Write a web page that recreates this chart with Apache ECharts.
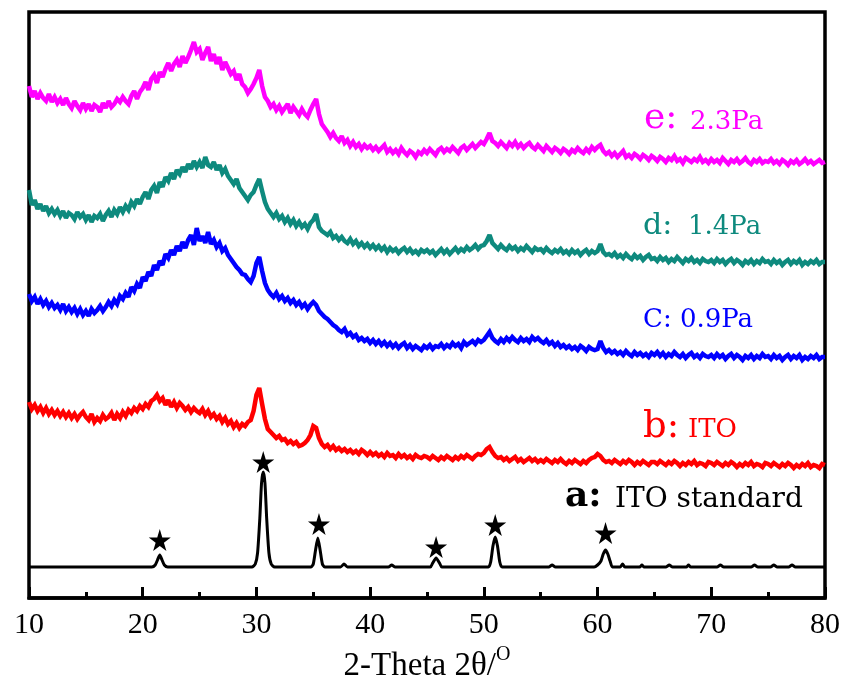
<!DOCTYPE html>
<html>
<head>
<meta charset="utf-8">
<script src="https://cdn.jsdelivr.net/npm/echarts@6/dist/echarts.min.js"></script>
<style>
html,body{margin:0;padding:0;background:#fff;}
#chart{width:842px;height:684px;}
</style>
</head>
<body>
<div id="chart"></div>
<script>
// 2-Theta grid: 10 to 80 deg, 0.25 deg step (281 samples)
const thetaStart = 10, thetaStep = 0.25, thetaCount = 281;
const xTicks = [10, 20, 30, 40, 50, 60, 70, 80];

// e: 2.3Pa (magenta), offset intensity
const seriesE = [
512,501,507,499,505,500,497,504,496,501,495,499,493,500,494,490,497,492,488,495,
489,494,487,493,491,486,495,490,497,491,494,499,496,501,497,494,502,507,499,506,
510,516,508,519,523,515,526,521,529,535,527,534,538,531,542,535,541,548,556,546,
549,538,545,551,537,544,534,541,528,536,530,524,527,518,524,514,511,505,509,514,
520,528,512,501,497,491,494,488,492,486,490,494,485,491,487,483,489,484,481,488,
494,499,484,474,470,466,461,465,460,457,462,455,458,452,456,451,454,449,453,450,
452,448,451,447,450,453,446,449,445,448,444,450,446,443,447,445,441,446,444,448,
445,449,446,443,448,450,446,449,447,451,448,445,450,452,448,451,454,450,453,456,
454,459,465,457,455,452,456,453,450,455,452,456,451,454,450,453,455,451,449,453,
450,447,452,449,446,450,448,445,449,447,444,448,446,450,447,445,449,446,451,448,
451,453,447,444,446,442,445,441,444,447,441,443,440,444,442,439,443,441,438,442,
440,437,441,439,436,440,438,442,437,439,435,440,438,436,439,437,441,436,438,435,
439,436,438,435,440,437,434,438,436,439,435,437,440,436,434,438,436,439,435,437,
436,439,435,437,434,438,436,433,437,435,438,434,436,439,435,437,434,436,438,435,
436];

// d: 1.4Pa (teal)
const seriesD = [
408,393,398,389,394,387,392,385,389,384,388,382,387,380,385,383,379,386,381,384,
378,383,376,382,380,384,377,383,387,381,388,384,391,386,392,388,396,392,399,394,
401,406,399,408,412,405,416,411,421,417,425,419,428,424,431,426,434,429,437,431,
436,430,441,433,431,436,428,433,425,429,422,418,414,419,410,406,402,398,403,406,
413,419,407,396,389,385,381,385,379,382,376,380,374,378,372,376,371,374,369,375,
378,384,371,367,365,363,366,360,362,358,361,357,355,359,354,357,352,355,351,354,
350,353,349,352,348,351,346,350,347,349,345,348,350,346,349,345,347,344,348,346,
348,345,347,343,346,349,345,348,344,347,350,346,349,347,351,348,350,353,349,352,
353,357,363,355,352,349,353,350,348,352,349,351,347,350,348,352,349,346,350,348,
349,346,350,347,345,348,346,349,345,347,344,348,345,347,343,346,348,344,347,345,
347,354,346,343,344,342,345,341,343,340,344,341,339,343,340,342,338,341,343,339,
340,337,341,338,340,336,339,337,341,338,335,339,337,340,336,338,335,339,337,336,
338,335,339,336,338,334,337,339,335,338,336,333,337,335,338,334,337,335,339,336,
337,334,338,335,337,333,336,338,334,337,335,338,333,336,334,337,335,338,334,336,
336];

// C: 0.9Pa (blue)
const seriesC = [
304,297,301,294,299,293,297,291,295,290,293,288,294,287,291,286,290,284,289,283,
287,282,289,285,288,292,287,291,296,292,298,294,302,299,305,301,311,307,314,310,
321,317,326,322,333,328,337,333,344,340,348,343,352,347,356,350,358,363,353,370,
357,362,355,366,354,358,351,355,347,350,343,339,335,331,328,324,323,319,316,322,
335,341,327,315,308,304,301,305,299,302,297,300,295,298,293,296,291,294,289,293,
296,293,287,284,281,279,276,273,271,268,266,269,263,265,261,263,258,260,257,259,
255,258,254,257,253,256,252,255,251,254,250,253,255,250,253,249,252,250,248,252,
250,253,249,252,251,254,250,253,251,255,252,254,250,256,253,255,257,254,258,256,
258,262,266,260,257,255,259,256,260,257,261,258,256,260,257,259,256,261,258,260,
257,255,258,254,256,252,255,251,253,250,252,249,251,248,252,250,247,251,249,248,
249,257,250,246,248,245,247,244,246,243,247,244,242,246,243,245,242,244,241,245,
243,246,242,245,241,244,242,246,243,241,244,240,243,245,241,243,240,244,242,241,
243,240,244,241,243,239,242,244,240,243,241,238,242,240,243,239,242,240,244,241,
242,239,243,240,242,238,241,243,239,242,240,243,238,241,239,242,240,243,239,241,
241];

// b: ITO film (red)
const seriesB = [
196,189,193,187,191,185,190,184,188,183,187,182,186,181,185,180,184,179,183,186,
181,178,184,176,180,177,183,179,181,185,178,184,180,186,182,188,185,190,187,192,
189,194,191,197,199,203,197,200,193,198,191,196,190,195,192,188,191,186,190,187,
185,189,183,187,181,184,179,182,176,180,174,177,171,175,170,174,172,176,178,187,
203,210,194,179,169,166,163,160,162,158,159,155,157,154,156,152,153,155,158,163,
172,170,160,154,151,153,149,152,148,150,147,149,146,148,145,147,144,148,146,143,
146,143,145,142,144,141,145,142,143,140,144,141,143,140,142,139,143,141,140,142,
141,139,142,140,138,141,139,142,140,138,141,139,142,140,143,141,139,142,144,143,
145,149,151,146,142,140,141,138,140,137,139,141,137,139,136,138,140,137,139,136,
138,136,139,137,135,138,136,139,136,134,137,135,138,136,134,137,135,138,140,141,
144,142,138,136,137,135,138,136,134,137,135,138,136,133,136,134,137,135,133,136,
136,134,137,135,133,136,134,137,135,132,135,133,136,134,137,133,135,134,132,136,
135,133,136,134,132,135,133,136,134,131,134,132,135,133,136,132,134,133,131,135,
134,132,135,133,131,134,132,135,133,130,133,131,134,132,135,131,133,132,130,134,
133];

// a: ITO standard (black) [2theta, intensity]
const standardA = [
[10,31],[20.8,31],[21.1,33],[21.3,38],[21.5,43],[21.7,38],[21.9,33],[22.2,31],
[29.6,31],[29.9,34],[30.1,45],[30.3,80],[30.45,115],[30.6,126],[30.75,115],[30.9,80],[31.1,45],[31.3,34],[31.6,31],
[34.8,31],[35.0,34],[35.2,48],[35.4,60],[35.6,48],[35.8,34],[36.0,31],
[37.4,31],[37.7,34],[38.0,31],[41.6,31],[41.9,33],[42.2,31],
[45.3,31],[45.5,35],[45.8,40],[46.1,35],[46.3,31],
[50.4,31],[50.6,36],[50.8,52],[51.0,61],[51.2,52],[51.4,36],[51.6,31],
[55.7,31],[56.0,33],[56.3,31],
[59.7,31],[60.0,33],[60.3,37],[60.5,44],[60.7,48],[60.9,44],[61.1,37],[61.3,31],
[62.0,31],[62.2,34],[62.4,31],[63.7,31],[63.9,33],[64.1,31],
[66.0,31],[66.3,33],[66.6,31],[67.8,31],[68.0,33],[68.2,31],[70.5,31],[70.8,33],[71.1,31],
[73.5,31],[73.8,33],[74.1,31],[75.2,31],[75.5,33],[75.8,31],[76.8,31],[77.1,33],[77.4,31],[80,31]
];

// star markers (2theta, height)
const starMarks = [[21.5,58],[30.6,136],[35.5,74],[45.8,51],[51.0,73],[60.7,65]];

const twoTheta = [];
for (let i = 0; i < thetaCount; i++) twoTheta.push(thetaStart + i * thetaStep);
const pair = arr => twoTheta.map((x, i) => [x, arr[i]]);

const STAR = 'path://M50,0 L61,35 L98,35 L68,57 L79,91 L50,70 L21,91 L32,57 L2,35 L39,35 Z';
const LBL = 'DejaVu Serif';

function noisy(name, data, color) {
  return {name, type:'line', data: pair(data), showSymbol:false, symbol:'none',
    lineStyle:{color, width:4.5, join:'miter', miterLimit:2.2}, itemStyle:{color}, animation:false, z:3};
}

const chart = echarts.init(document.getElementById('chart'), null, {renderer:'canvas'});
chart.setOption({
  backgroundColor:'#fff',
  animation:false,
  grid:{left:29, right:17, top:12, bottom:86, show:true, borderColor:'#000', borderWidth:3.5,
        containLabel:false, outerBoundsMode:'none'},
  xAxis:{
    type:'value', min:10, max:80, interval:10,
    axisLine:{show:true, onZero:false, lineStyle:{color:'#000', width:3.5}},
    axisTick:{show:true, inside:true, length:11, lineStyle:{color:'#000', width:3}},
    minorTick:{show:true, splitNumber:2, length:6, lineStyle:{color:'#000', width:3}},
    splitLine:{show:false},
    axisLabel:{color:'#000', fontFamily:'Liberation Serif', fontSize:30, margin:12,
      formatter: v => xTicks.includes(v) ? String(v) : ''},
    name:'2-Theta 2θ/{sup|O}', nameLocation:'middle', nameGap:47,
    nameTextStyle:{color:'#000', fontFamily:'Liberation Serif', fontSize:33,
      rich:{sup:{fontFamily:'Liberation Serif', fontSize:20, verticalAlign:'top', padding:[0,0,22,0], color:'#000'}}}
  },
  yAxis:{type:'value', min:0, max:586, show:false, splitLine:{show:false}},
  series:[
    noisy('e: 2.3Pa', seriesE, '#FF00FF'),
    noisy('d: 1.4Pa', seriesD, '#0E8A7E'),
    noisy('C: 0.9Pa', seriesC, '#0000FF'),
    noisy('b: ITO', seriesB, '#FF0000'),
    {name:'a: ITO standard', type:'line', data:standardA, showSymbol:false, symbol:'none', smooth:0.2,
      lineStyle:{color:'#000', width:3}, animation:false, z:3},
    {name:'stars', type:'scatter', data:starMarks, symbol:STAR, symbolSize:22,
      itemStyle:{color:'#000', opacity:1}, animation:false, z:4}
  ],
  graphic:[
    {type:'text', x:644, y:119, style:{text:'e:', fontFamily:LBL, fontSize:36, fill:'#FF00FF', verticalAlign:'middle'}},
    {type:'text', x:690, y:122, style:{text:'2.3Pa', fontFamily:LBL, fontSize:26, fill:'#FF00FF', verticalAlign:'middle'}},
    {type:'text', x:643, y:226, style:{text:'d:', fontFamily:LBL, fontSize:30, fill:'#0E8A7E', verticalAlign:'middle'}},
    {type:'text', x:688, y:227, style:{text:'1.4Pa', fontFamily:LBL, fontSize:26, fill:'#0E8A7E', verticalAlign:'middle'}},
    {type:'text', x:643, y:320, style:{text:'C: 0.9Pa', fontFamily:LBL, fontSize:26, fill:'#0000FF', verticalAlign:'middle'}},
    {type:'text', x:643, y:427, style:{text:'b:', fontFamily:LBL, fontSize:37, fill:'#FF0000', verticalAlign:'middle'}},
    {type:'text', x:688, y:430, style:{text:'ITO', fontFamily:LBL, fontSize:26, fill:'#FF0000', verticalAlign:'middle'}},
    {type:'text', x:565, y:497, style:{text:'a:', fontFamily:LBL, fontSize:36, fontWeight:'bold', fill:'#000', verticalAlign:'middle'}},
    {type:'text', x:615, y:500, style:{text:'ITO standard', fontFamily:LBL, fontSize:28, fill:'#000', verticalAlign:'middle'}}
  ]
});
</script>
</body>
</html>
